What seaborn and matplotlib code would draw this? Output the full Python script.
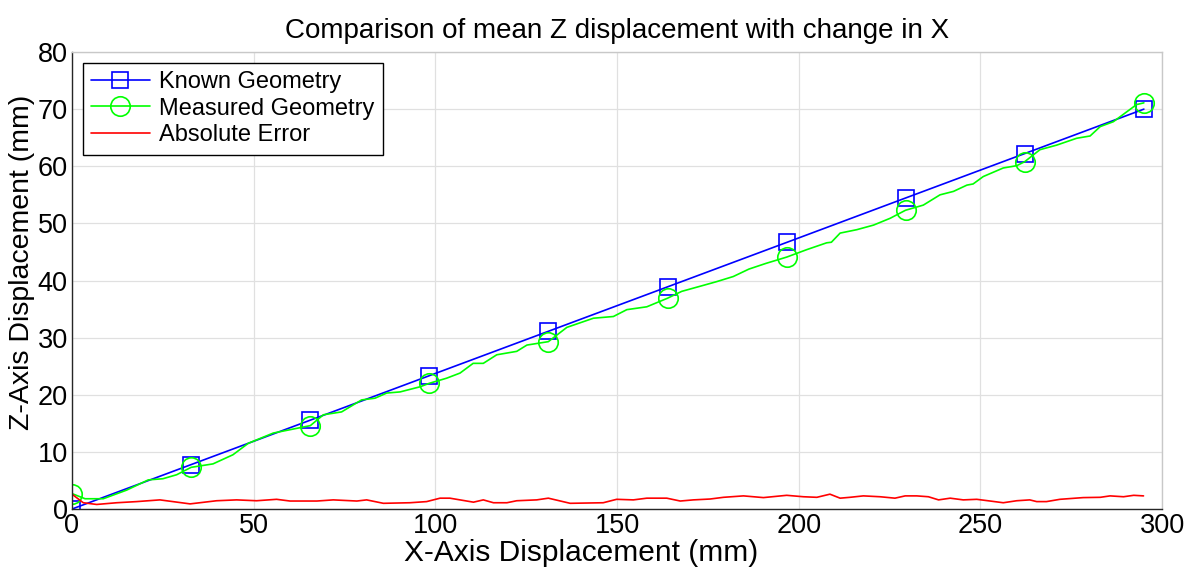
import matplotlib
matplotlib.use('Agg')
from matplotlib import pyplot as plt
import seaborn as sns


# Known geometry (straight line, values at the marker positions)
KNOWN_X = [0, 32.8, 65.6, 98.3, 131.1, 163.9, 196.7, 229.4, 262.2, 295]
KNOWN_Z = [0, 7.78, 15.56, 23.33, 31.11, 38.89, 46.67, 54.44, 62.22, 70.0]

# Measured geometry
MEASURED_X = [0, 3.6, 8.6, 15, 21, 25, 28.8, 32.8, 38.8, 44.3,
              48.5, 55.4, 60.9, 65.6, 69.2, 74.2, 79.7, 83.4, 86.6, 90.3,
              95.8, 98.3, 103.1, 106.8, 110.4, 113.2, 116.9, 122.4, 125.2, 131.1,
              136.2, 143.5, 149, 152.7, 158.2, 163.9, 167.8, 172.9, 177.4, 182,
              186.3, 191, 196.7, 202.2, 207.7, 209, 211.4, 216, 220.6, 225.2,
              229.4, 234.3, 238.9, 242.6, 246.3, 248, 250.8, 256.3, 260, 262.2,
              266.4, 271, 276.5, 280.2, 283, 286.6, 293, 295]
MEASURED_Z = [2.7, 1.8, 1.8, 3.3, 5.1, 5.3, 6.0, 7.3, 7.9, 9.5,
              11.5, 13.3, 14.0, 14.6, 16.5, 17.0, 19.1, 19.4, 20.3, 20.5,
              21.4, 22.0, 22.9, 23.8, 25.5, 25.5, 27.0, 27.6, 28.7, 29.3,
              31.8, 33.4, 33.7, 34.9, 35.4, 36.9, 38.1, 39.0, 39.8, 40.7,
              42.0, 43.0, 44.1, 45.4, 46.6, 46.7, 48.3, 48.9, 49.7, 50.9,
              52.3, 53.2, 55.0, 55.6, 56.7, 56.9, 58.2, 59.7, 60.1, 60.8,
              62.9, 63.7, 64.9, 65.3, 66.95, 67.8, 70.8, 71.1]

# Absolute error
ERROR_X = [0, 3.1, 6.8, 12.3, 17.8, 24.2, 32.5, 39.8, 45.3, 50.8,
           56.3, 60, 67.4, 71.9, 78.4, 81.1, 85.7, 93, 97.6, 101.3,
           104, 110.5, 113.2, 116, 119.7, 122.4, 127.9, 131.1, 137.1, 146.2,
           149.9, 154.5, 158.2, 163.7, 167.4, 171, 175.6, 179.3, 184.8, 190.3,
           196.7, 201.3, 205, 208.6, 211.4, 214.1, 217.8, 222.4, 226.5, 229.3,
           232.5, 235.7, 238.5, 241.7, 245.3, 249, 252.7, 256.3, 260, 263.6,
           265.5, 268.2, 271.9, 278.3, 283, 285.7, 289.4, 292.2, 294.9]
ERROR_Z = [2.6, 1.1, 0.8, 1.1, 1.3, 1.6, 0.9, 1.45, 1.6, 1.45,
           1.7, 1.4, 1.4, 1.6, 1.4, 1.6, 1.0, 1.1, 1.3, 1.9,
           1.9, 1.2, 1.6, 1.1, 1.1, 1.45, 1.6, 1.9, 1.0, 1.1,
           1.7, 1.6, 1.9, 1.9, 1.4, 1.6, 1.75, 2.05, 2.3, 2.0,
           2.4, 2.15, 2.05, 2.6, 1.9, 2.05, 2.3, 2.15, 1.9, 2.3,
           2.3, 2.15, 1.6, 1.9, 1.6, 1.7, 1.4, 1.1, 1.45, 1.6,
           1.3, 1.3, 1.7, 2.0, 2.05, 2.3, 2.15, 2.4, 2.3]

MARK_IDX = [MEASURED_X.index(x) for x in KNOWN_X]

sns.set_style('whitegrid', {'grid.color': '#e0e0e0', 'axes.edgecolor': '#262626',
                            'text.color': 'black', 'axes.labelcolor': 'black',
                            'xtick.color': '#262626', 'ytick.color': '#262626'})
plt.rcParams['font.family'] = ['Liberation Sans', 'DejaVu Sans']

fig = plt.figure(figsize=(11.9, 5.69), dpi=100)
ax = fig.add_axes([0.0605, 0.1054, 0.916, 0.8032])

sns.lineplot(x=KNOWN_X, y=KNOWN_Z, ax=ax, color='#0000FF', lw=1.2,
             marker='s', ms=11.5, mfc='none', mec='#0000FF', mew=1.2,
             label='Known Geometry')
sns.lineplot(x=MEASURED_X, y=MEASURED_Z, ax=ax, color='#00FF00', lw=1.2,
             marker='o', ms=14, mfc='none', mec='#00FF00', mew=1.2,
             markevery=MARK_IDX, label='Measured Geometry')
sns.lineplot(x=ERROR_X, y=ERROR_Z, ax=ax, color='#FF0000', lw=1.2,
             label='Absolute Error')

ax.set_xlim(0, 300)
ax.set_ylim(0, 80)
ax.set_xticks(range(0, 301, 50))
ax.set_yticks(range(0, 81, 10))
ax.tick_params(direction='in', length=7, width=1, labelsize=19.5, pad=3,
               labelcolor='black', top=False, right=False)
ax.grid(True, lw=0.9, color='#e0e0e0')
for side in ['top', 'right']:
    ax.spines[side].set_color('#c8c8c8')
for side in ['left', 'bottom']:
    ax.spines[side].set_color('#262626')
for sp in ax.spines.values():
    sp.set_linewidth(1.0)

ax.set_title('Comparison of mean Z displacement with change in X',
             fontsize=20, pad=10, color='black')
ax.set_xlabel('X-Axis Displacement (mm)', fontsize=21.5)
ax.xaxis.set_label_coords(0.467, -0.065)
ax.set_ylabel('Z-Axis Displacement (mm)', fontsize=20.5)
ax.yaxis.set_label_coords(-0.034, 0.54)

leg = ax.legend(loc='upper left', fontsize=17, fancybox=False, framealpha=1,
                edgecolor='black', handlelength=2.5, handletextpad=0.4,
                borderaxespad=0.45, labelspacing=0.2, borderpad=0.35)
leg.get_frame().set_linewidth(1.0)
for t in leg.get_texts():
    t.set_color('black')

fig.savefig('out.png', dpi=100)
